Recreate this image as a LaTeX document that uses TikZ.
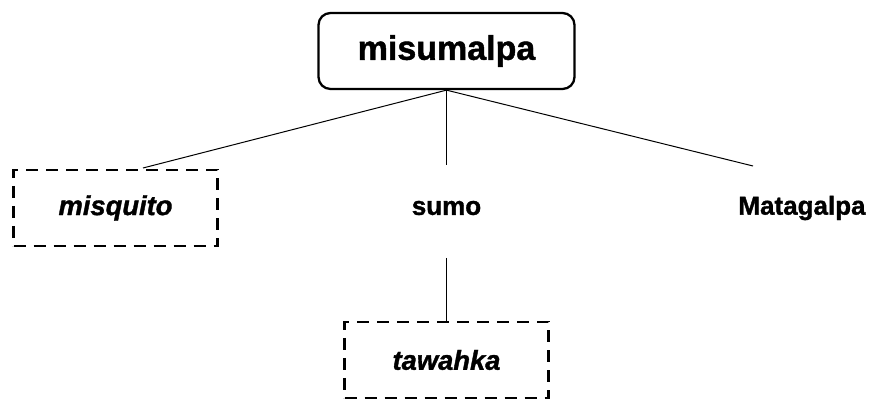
\documentclass[tikz,border=0pt]{standalone}
\usepackage{fontspec}
\setmainfont{Liberation Sans}
\newfontfamily\heavyfont{Liberation Sans Bold}[FakeBold=1.3]
\newfontfamily\heavyitfont{Liberation Sans Bold Italic}[FakeBold=1.3]
\tikzset{every picture/.style={line width=0.75pt}}
\tikzset{
  rootbox/.style={draw, rounded corners=9pt, line width=1.7pt, minimum width=192pt, minimum height=57pt, font=\fontsize{25.5}{29}\heavyfont},
  dashbox/.style={draw, dash pattern=on 9pt off 6pt, line width=1.9pt, minimum width=153pt, minimum height=57pt, font=\fontsize{20.5}{24}\heavyitfont},
  plain/.style={font=\fontsize{19.5}{23}\heavyfont},
}

\begin{document}
\begin{tikzpicture}[x=0.75pt,y=-0.75pt]
\useasboundingbox (0,0) rectangle (869,399);
\node [rootbox] (misumalpa) at (446.5,51) {misumalpa};
\node [dashbox] (misquito) at (115.5,208) {misquito};
\node [plain] (sumo) at (446.5,208) {sumo};
\node [plain] (matagalpa) at (802,208) {Matagalpa};
\node [dashbox] (tawahka) at (446.5,360) {tawahka};
% free ends of the branches
\coordinate (mq) at (143,168);
\coordinate (mg) at (753,166);
\coordinate (sumotop) at (446.5,165);
\coordinate (sumobot) at (446.5,258);
\draw (misumalpa.south) -- (mq);
\draw (misumalpa.south) -- (sumotop);
\draw (misumalpa.south) -- (mg);
\draw (sumobot) -- (tawahka.north);
\end{tikzpicture}
\end{document}
